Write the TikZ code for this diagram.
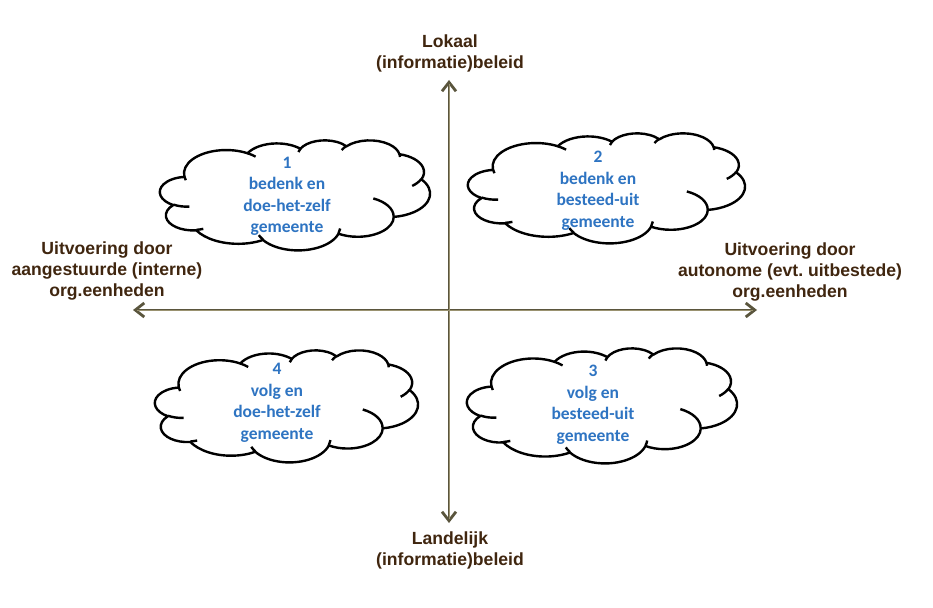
\documentclass[tikz,border=0pt]{standalone}
\usepackage{fontspec}
\setmainfont{Liberation Sans}
\newfontfamily\cloudfont{Carlito}
\usetikzlibrary{arrows.meta}
\frenchspacing
\definecolor{labelbrown}{HTML}{40260F}
\definecolor{cloudblue}{HTML}{2E74C2}
\definecolor{axisdark}{HTML}{5A553D}
\definecolor{axislight}{HTML}{9A9270}

% build the outline of a PowerPoint-like cloud (43.2 x 43.2 units)
\newcommand\buildarcs[2]{%
  \gdef#1{}%
  \foreach \ra/\rb/\sa/\wa in {#2}{%
    \pgfmathsetmacro\tsA{\sa + atan((\ra-\rb)*sin(\sa)*cos(\sa)/(\rb*cos(\sa)^2+\ra*sin(\sa)^2))}%
    \pgfmathsetmacro\teA{(\sa+\wa) + atan((\ra-\rb)*sin(\sa+\wa)*cos(\sa+\wa)/(\rb*cos(\sa+\wa)^2+\ra*sin(\sa+\wa)^2))}%
    \xdef#1{#1 arc[start angle=\tsA, end angle=\teA, x radius=\ra pt, y radius=\rb pt]}%
  }%
}
\newcommand\buildcreases[2]{%
  \gdef#1{}%
  \foreach \mx/\my/\ra/\rb/\sa/\wa in {#2}{%
    \pgfmathsetmacro\tsA{\sa + atan((\ra-\rb)*sin(\sa)*cos(\sa)/(\rb*cos(\sa)^2+\ra*sin(\sa)^2))}%
    \pgfmathsetmacro\teA{(\sa+\wa) + atan((\ra-\rb)*sin(\sa+\wa)*cos(\sa+\wa)/(\rb*cos(\sa+\wa)^2+\ra*sin(\sa+\wa)^2))}%
    \xdef#1{#1 (\mx,\my) arc[start angle=\tsA, end angle=\teA, x radius=\ra pt, y radius=\rb pt]}%
  }%
}
\buildarcs\cloudmain{%
  6.753/9.190/-190.4875/123.7805,
  5.333/7.267/-144.1024/89.9452,
  4.365/5.945/-145.8079/99.7230,
  4.857/6.595/-130.9861/117.2417,
  5.333/7.273/-78.7089/109.0269,
  6.775/9.220/-46.2673/130.2690,
  5.785/7.867/0.6250/114.0333,
  6.752/9.215/22.4516/115.1726,
  7.720/10.543/66.2426/75.7110,
  4.360/5.918/-274.9421/146.7356,
  4.345/5.945/-246.8285/152.5189}
\buildcreases\cloudinner{%
  4.693/26.177/4.345/5.945/86.7420/26.4295,
  6.928/34.899/4.360/5.918/73.6105/11.4475,
  16.478/39.090/6.752/9.215/137.6242/14.0811,
  28.827/34.751/6.752/9.215/6.4533/15.9984,
  34.129/22.954/5.785/7.867/-70.2924/70.9174,
  41.798/15.354/5.333/7.273/30.3180/27.7515,
  38.324/5.426/4.857/6.595/-13.7443/14.8589,
  29.078/3.952/4.857/6.595/-149.1815/18.1954,
  22.141/4.720/4.365/5.945/-163.4943/17.6864,
  14.000/5.192/6.753/9.190/-66.7070/12.3194,
  4.127/15.789/6.753/9.190/157.6544/11.8539}

\newcommand\drawcloud[4]{%
  \begin{scope}[shift={(#1,#2)}, xscale=#3/43.2, yscale=#4/43.2]
    \draw[cloudline, fill=white] (3.9,14.37) \cloudmain -- cycle;
    \draw[cloudline] \cloudinner;
  \end{scope}}

\begin{document}
\begin{tikzpicture}[x=1pt, y=1pt, yscale=-1,
  cloudline/.style={draw=black, line width=2.4pt, line join=round},
  axisline/.style={draw=axisdark, line width=2.8pt,
    {Straight Barb[length=9pt, width=14pt]}-{Straight Barb[length=9pt, width=14pt]}},
  axiscore/.style={draw=axislight, line width=0.8pt},
  axislabel/.style={text=labelbrown, align=center,
    font=\bfseries\fontsize{17.6}{21}\selectfont, inner sep=0pt},
  cloudtext/.style={text=cloudblue, align=center,
    font=\cloudfont\bfseries\fontsize{17.5}{21.5}\selectfont, inner sep=0pt}]

\fill[white] (0,0) rectangle (933,607);
\useasboundingbox (0,0) rectangle (933,607);

% axes
\coordinate (top) at (449,80);
\coordinate (bot) at (449,523);
\coordinate (lft) at (133,310);
\coordinate (rgt) at (757,310);
\coordinate (topc) at (449,84);
\coordinate (botc) at (449,519);
\coordinate (lftc) at (137,310);
\coordinate (rgtc) at (753,310);
\draw[axisline] (bot) -- (top);
\draw[axisline] (lft) -- (rgt);
\draw[axiscore] (botc) -- (topc);
\draw[axiscore] (lftc) -- (rgtc);

% clouds
\drawcloud{160}{140}{270}{110}
\drawcloud{468}{133}{277}{110}
\drawcloud{467}{348}{270}{115}
\drawcloud{155}{350}{263}{112}

\node[cloudtext] (q1) at (287,196.5) {1\\bedenk en\\doe-het-zelf\\gemeente};
\node[cloudtext] (q2) at (598,190.5) {2\\bedenk en\\besteed-uit\\gemeente};
\node[cloudtext] (q3) at (593,404.5) {3\\volg en\\besteed-uit\\gemeente};
\node[cloudtext] (q4) at (277,403) {4\\volg en\\doe-het-zelf\\gemeente};

% axis labels
\node[axislabel] (ltop) at (450,53.5) {Lokaal\\(informatie)beleid};
\node[axislabel] (lbot) at (450,550.5) {Landelijk\\(informatie)beleid};
\node[axislabel] (lleft) at (107,271) {Uitvoering door\\aangestuurde (interne)\\org.eenheden};
\node[axislabel] (lright) at (790,272) {Uitvoering door\\autonome (evt. uitbestede)\\org.eenheden};
\end{tikzpicture}
\end{document}
